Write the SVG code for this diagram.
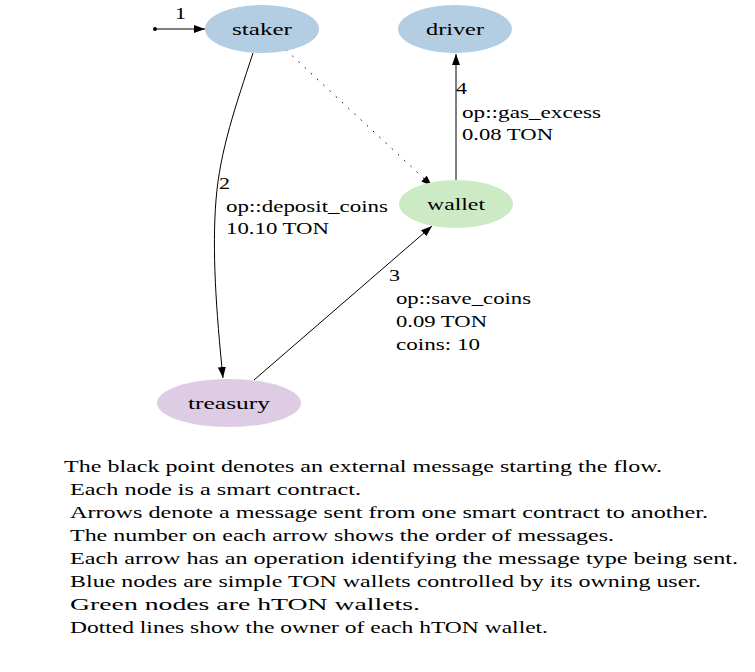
<svg xmlns="http://www.w3.org/2000/svg" width="755" height="672" viewBox="0 0 755 672" font-family="'Liberation Serif', 'DejaVu Serif', 'Noto Serif', 'Times New Roman', Times, serif" font-size="17.5">
<style>
text{font-family:'Liberation Serif','DejaVu Serif','Noto Serif','Times New Roman',Times,serif;font-size:17.5px;fill:#000}
.n{text-anchor:middle}
.e{fill:none;stroke:#000;stroke-width:1}
</style>
<defs>
<marker id="ah" markerWidth="11" markerHeight="8" refX="11" refY="4" orient="auto" markerUnits="userSpaceOnUse">
<path d="M0,0 L11,4 L0,8 Z" fill="#000"/>
</marker>
</defs>
<rect width="755" height="672" fill="#fff"/>
<g id="edges">
<circle cx="155" cy="29" r="2" fill="#000"/>
<path class="e" d="M157,29 L205,29" marker-end="url(#ah)"/>
<text x="175" y="19" textLength="11" lengthAdjust="spacingAndGlyphs">1</text>
<path class="e" d="M253,53 C236,105 220,150 216,200 C212,250 216,310 223,378" marker-end="url(#ah)"/>
<text x="219" y="189" textLength="11" lengthAdjust="spacingAndGlyphs">2</text>
<text x="226" y="212" textLength="162" lengthAdjust="spacingAndGlyphs">op::deposit_coins</text>
<text x="226" y="234" textLength="103" lengthAdjust="spacingAndGlyphs">10.10 TON</text>
<path class="e" d="M286,50 L432,186" stroke-dasharray="1.5,7" marker-end="url(#ah)"/>
<path class="e" d="M254,380 L432,226" marker-end="url(#ah)"/>
<text x="389" y="281" textLength="11" lengthAdjust="spacingAndGlyphs">3</text>
<text x="396" y="304" textLength="135" lengthAdjust="spacingAndGlyphs">op::save_coins</text>
<text x="396" y="327" textLength="91" lengthAdjust="spacingAndGlyphs">0.09 TON</text>
<text x="396" y="350" textLength="84" lengthAdjust="spacingAndGlyphs">coins: 10</text>
<path class="e" d="M456,180 L456,54" marker-end="url(#ah)"/>
<text x="456" y="94" textLength="11" lengthAdjust="spacingAndGlyphs">4</text>
<text x="462" y="118" textLength="139" lengthAdjust="spacingAndGlyphs">op::gas_excess</text>
<text x="462" y="140" textLength="91" lengthAdjust="spacingAndGlyphs">0.08 TON</text>
</g>
<g id="staker"><ellipse cx="262" cy="29" rx="57" ry="24" fill="#b3cde3"/><text class="n" x="262" y="35" textLength="60" lengthAdjust="spacingAndGlyphs">staker</text></g>
<g id="driver"><ellipse cx="455" cy="29" rx="57" ry="24" fill="#b3cde3"/><text class="n" x="455" y="35" textLength="58" lengthAdjust="spacingAndGlyphs">driver</text></g>
<g id="wallet"><ellipse cx="456" cy="204" rx="57" ry="24" fill="#ccebc5"/><text class="n" x="456" y="210" textLength="58" lengthAdjust="spacingAndGlyphs">wallet</text></g>
<g id="treasury"><ellipse cx="229" cy="403" rx="72" ry="24" fill="#decbe4"/><text class="n" x="229" y="409" textLength="82" lengthAdjust="spacingAndGlyphs">treasury</text></g>
<g id="legend">
<text x="64" y="472" textLength="598" lengthAdjust="spacingAndGlyphs">The black point denotes an external message starting the flow.</text>
<text x="70" y="495" textLength="291" lengthAdjust="spacingAndGlyphs">Each node is a smart contract.</text>
<text x="70" y="518" textLength="638" lengthAdjust="spacingAndGlyphs">Arrows denote a message sent from one smart contract to another.</text>
<text x="70" y="541" textLength="544" lengthAdjust="spacingAndGlyphs">The number on each arrow shows the order of messages.</text>
<text x="70" y="564" textLength="668" lengthAdjust="spacingAndGlyphs">Each arrow has an operation identifying the message type being sent.</text>
<text x="70" y="587" textLength="631" lengthAdjust="spacingAndGlyphs">Blue nodes are simple TON wallets controlled by its owning user.</text>
<text x="70" y="610" textLength="350" lengthAdjust="spacingAndGlyphs">Green nodes are hTON wallets.</text>
<text x="70" y="633" textLength="478" lengthAdjust="spacingAndGlyphs">Dotted lines show the owner of each hTON wallet.</text>
</g>
</svg>
